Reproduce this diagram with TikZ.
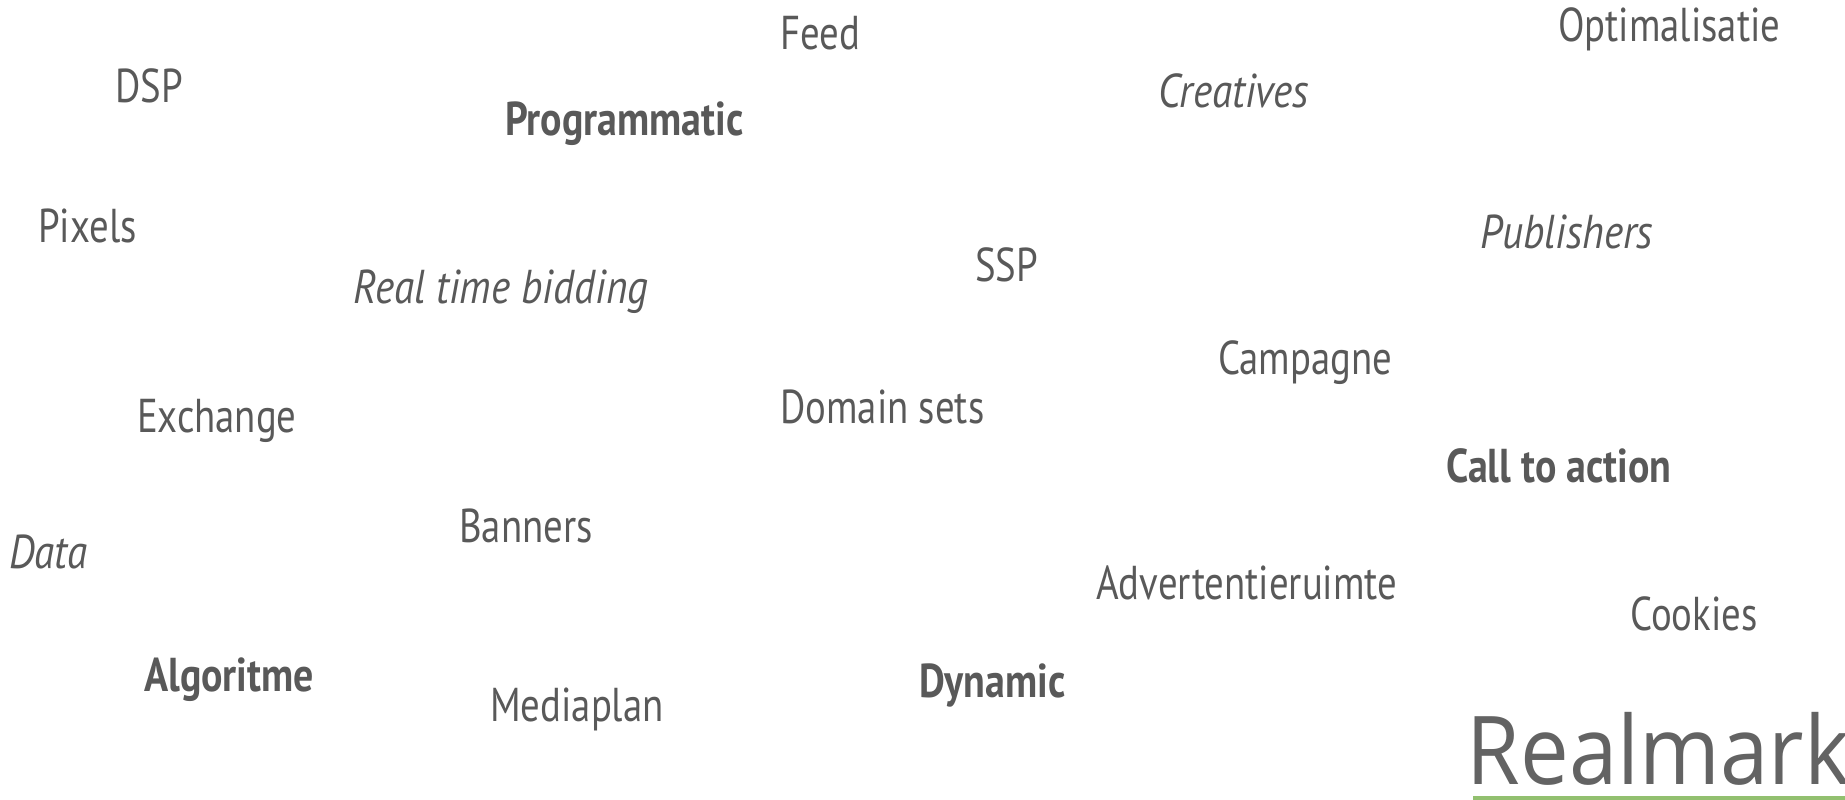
\documentclass[tikz,border=0pt]{standalone}
\usepackage{fontspec}
\setmainfont[FakeStretch=0.816,BoldFeatures={FakeStretch=0.84},ItalicFeatures={FakeStretch=0.866}]{PT Sans}
\newfontfamily\logofont[FakeStretch=0.915]{Open Sans}
\definecolor{wordgray}{HTML}{595959}
\definecolor{logogray}{HTML}{636363}
\definecolor{logogreen}{HTML}{92C06F}
\tikzset{word/.style={text=wordgray,font=\fontsize{47.5}{52}\selectfont,inner sep=0pt,anchor=base west},
 strong/.style={word,font=\fontsize{47.5}{52}\selectfont\bfseries},
 slant/.style={word,font=\fontsize{47.5}{52}\selectfont\itshape}}
\begin{document}
\begin{tikzpicture}[x=1pt,y=-1pt]
\useasboundingbox (0,0) rectangle (1845,800);
\node[word] (feed) at (780,50) {Feed};
\node[word] (opt) at (1558,41.5) {Optimalisatie};
\node[word] (dsp) at (115,102.5) {DSP};
\node[strong] (prog) at (505,135) {Programmatic};
\node[slant] (crea) at (1158.5,107.5) {Creatives};
\node[word] (pix) at (38,242) {Pixels};
\node[slant] (pub) at (1480,248.5) {Publishers};
\node[slant] (rtb) at (353.5,303) {Real time bidding};
\node[word] (ssp) at (975,281.5) {SSP};
\node[word] (camp) at (1218,374.5) {Campagne};
\node[word] (exch) at (137,432) {Exchange};
\node[word] (dom) at (780,423) {Domain sets};
\node[strong] (cta) at (1446,482) {Call to action};
\node[word] (ban) at (459,542.5) {Banners};
\node[slant] (data) at (9,568) {Data};
\node[word] (adv) at (1096,599) {Advertentieruimte};
\node[word] (cook) at (1630,630) {Cookies};
\node[strong] (algo) at (144,691) {Algoritme};
\node[word] (media) at (490,721.5) {Mediaplan};
\node[strong] (dyn) at (919,697) {Dynamic};
\node[text=logogray,font=\logofont\fontsize{95}{100}\selectfont,inner sep=0pt,anchor=base west] (logo) at (1466.5,784) {Realmark};
\fill[logogreen] (1473,796) rectangle (1845,800);
\end{tikzpicture}
\end{document}
